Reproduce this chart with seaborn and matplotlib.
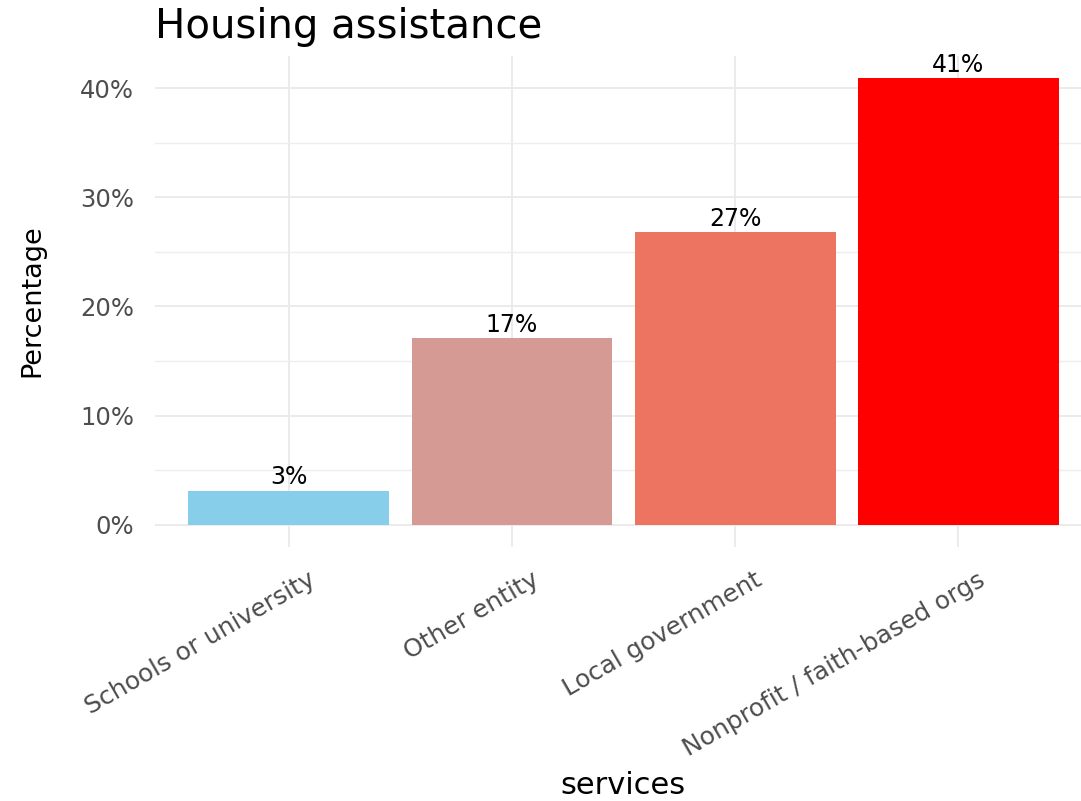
import matplotlib
matplotlib.use("Agg")
import matplotlib.pyplot as plt
import matplotlib.transforms as mtransforms
from matplotlib.ticker import FixedLocator, MultipleLocator, FuncFormatter
import pandas as pd
import seaborn as sns

# Data
services = ["Schools or university", "Other entity", "Local government",
            "Nonprofit / faith-based orgs"]
percentages = [3.1, 17.1, 26.8, 40.9]
bar_colors = ["#87CEEB", "#D49A93", "#EC7461", "#FF0000"]
y_ticks = [0, 10, 20, 30, 40]

df = pd.DataFrame({"services": services, "Percentage": percentages})

sns.set_theme(style="white")
plt.rcParams["font.family"] = ["DejaVu Sans"]

W, H = 1081, 801
fig = plt.figure(figsize=(W / 100, H / 100), dpi=100)
ax = fig.add_axes([155 / W, 1 - 547 / H, (W - 155) / W, (547 - 56) / H])

sns.barplot(data=df, x="services", y="Percentage", hue="services",
            order=services, hue_order=services,
            palette=dict(zip(services, bar_colors)), saturation=1,
            width=0.9, errorbar=None, legend=False, linewidth=0, ax=ax)

ax.set_xlim(-0.6, 3.55)
ax.set_ylim(-2.05, 42.95)
ax.set_axisbelow(True)
for s in ax.spines.values():
    s.set_visible(False)

# Gridlines (major + minor on y)
ax.yaxis.set_major_locator(FixedLocator(y_ticks))
ax.yaxis.set_minor_locator(MultipleLocator(5))
ax.yaxis.set_major_formatter(FuncFormatter(lambda v, p: f"{v:.0f}%"))
ax.grid(which="major", axis="both", color="#EBEBEB", linewidth=1.4)
ax.grid(which="minor", axis="y", color="#EEEEEE", linewidth=1.0)
ax.tick_params(which="both", length=0)
ax.tick_params(axis="y", labelsize=17.5, labelcolor="#4D4D4D", pad=15)

# Rotated category labels
ax.set_xticks(range(len(services)))
ax.set_xticklabels(services, rotation=30, ha="right", va="top",
                   rotation_mode="anchor", fontsize=18, color="#4D4D4D")
ax.tick_params(axis="x", pad=15)
shift = mtransforms.ScaledTranslation(19 / 100, 0, fig.dpi_scale_trans)
for lbl in ax.get_xticklabels():
    lbl.set_transform(lbl.get_transform() + shift)

ax.set_xlabel("")
ax.set_ylabel("")

# Value labels above bars
for i, v in enumerate(percentages):
    ax.annotate(f"{v:.0f}%", xy=(i, v), xytext=(0, 1.0),
                textcoords="offset points", ha="center", va="bottom",
                fontsize=17, color="black")

# Titles
fig.text(155 / W, 1 - 38 / H, "Housing assistance", fontsize=29,
         color="black", ha="left", va="baseline")
fig.text(32 / W, 1 - 301 / H, "Percentage", fontsize=19.5, rotation=90,
         ha="center", va="center", color="black")
fig.text(623 / W, 1 - 786 / H, "services", fontsize=22, ha="center",
         va="center", color="black")

fig.savefig("out.png", dpi=100, facecolor="white")
